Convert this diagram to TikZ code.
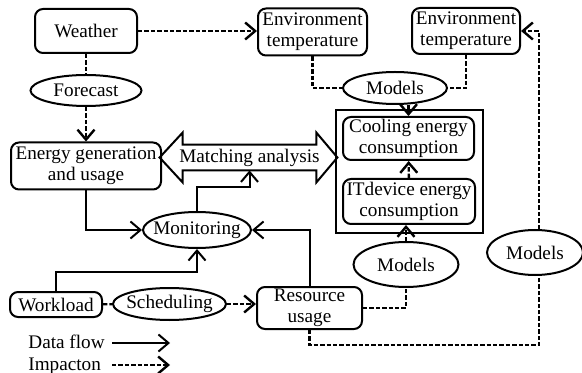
\documentclass[tikz,border=0pt]{standalone}
\usepackage{fontspec}
\setmainfont{Liberation Serif}
\usetikzlibrary{arrows.meta,shapes.geometric}
\tikzset{
  box/.style={draw, rounded corners=4pt, line width=1pt, inner sep=1pt, align=center},
  oval/.style={draw, ellipse, line width=1pt, inner sep=0pt, label=center:#1},
  flow/.style={line width=1pt, -{Straight Barb[length=5pt,width=8.5pt]}},
  impactline/.style={line width=1.2pt, dash pattern=on 2.2pt off 1pt},
  impact/.style={impactline, -{Straight Barb[length=5pt,width=8.5pt]}},
}
\begin{document}
\begin{tikzpicture}[x=0.5pt, y=-0.5pt, font=\fontsize{9.6}{10.5}\selectfont]
	\useasboundingbox (0,0) rectangle (582,373);
	% boxes
	\node[box, minimum width=51pt, minimum height=22pt] (weather) at (86,31) {Weather};
	\node[box, minimum width=54.5pt, minimum height=23.5pt] (envA) at (312.5,32) {Environment\\temperature};
	\node[box, minimum width=54pt, minimum height=23pt] (envB) at (466,31) {Environment\\temperature};
	\node[box, minimum width=75pt, minimum height=23.5pt] (energy) at (86,166) {Energy generation\\and usage};
	\node[draw, line width=1pt, minimum width=73.5pt, minimum height=61.5pt] (devbox) at (409.5,171.5) {};
	\node[box, minimum width=65.5pt, minimum height=21.5pt] (cool) at (408.5,138.5) {Cooling energy\\consumption};
	\node[box, minimum width=66pt, minimum height=22.5pt] (itdev) at (409,201.5) {ITdevice energy\\consumption};
	\node[box, minimum width=46pt, minimum height=12.5pt] (work) at (56,304.5) {Workload};
	\node[box, minimum width=52.5pt, minimum height=21pt] (res) at (309.5,308) {Resource\\usage};
	% ovals
	\node[oval=Forecast, minimum width=55.5pt, minimum height=15.5pt] (forecast) at (86,90.5) {};
	\node[oval=Models, minimum width=52pt, minimum height=16pt] (modA) at (395,88) {};
	\node[oval=Models, minimum width=52.5pt, minimum height=22.5pt] (modB) at (406,264.5) {};
	\node[oval=Models, minimum width=48pt, minimum height=22.5pt] (modC) at (535,252.5) {};
	\node[oval=Monitoring, minimum width=54pt, minimum height=18pt] (mon) at (197,230) {};
	\node[oval=Scheduling, minimum width=56.5pt, minimum height=16pt] (sched) at (169.5,304) {};
	% matching analysis
	\node[inner sep=0pt, minimum width=66.5pt, minimum height=12.5pt, label=center:Matching analysis] (match) at (249.5,157.5) {};
	\draw[line width=1pt] ([xshift=-11.5pt]match.west) -- ([yshift=6pt]match.north west) -- (match.north west)
		-- (match.north east) -- ([yshift=6pt]match.north east) -- ([xshift=10.5pt]match.east)
		-- ([yshift=-6pt]match.south east) -- (match.south east) -- (match.south west)
		-- ([yshift=-6pt]match.south west) -- cycle;
	% impact
	\draw[impact] (weather) -- (weather -| envA.west);
	\draw[impactline] (weather) -- (forecast);
	\draw[impact] (forecast) -- (energy);
	\draw[impactline] (envA.south) |- (modA.west);
	\draw[impactline] (envB.south) |- (modA.east);
	\draw[impact] (modA.south -| cool) -- (cool.north);
	\draw[impact] (itdev) -- (cool);
	\draw[impact] (modB) -- (modB |- itdev.south);
	\draw[impactline] (res.east) -| (modB.south);
	\coordinate (corner) at (539,345);
	\draw[impactline] (res.south) |- (corner) -- (corner |- modC.south);
	\draw[impact] (corner |- modC.north) |- (envB.east);
	\draw[impactline] (work) -- (sched);
	\draw[impact] (sched) -- (sched -| res.west);
	% data flow
	\draw[flow] (energy.south) |- (mon.west);
	\draw[flow] (mon.north) -- ++(0,12pt) -| (match.south);
	\draw[flow] (work.north) -- ++(0,9.5pt) -| (mon.south);
	\draw[flow] (res.north) |- (mon.east);
	% legend
	\foreach \yy/\txt/\sty [count=\i] in {343/Data flow/flow, 365/Impacton/impact} {
		\node[anchor=base west, inner sep=0pt] (leg\i) at (28,\yy+5) {\txt};
		\coordinate (legs\i) at (112,\yy);
		\coordinate (lege\i) at (170,\yy);
		\draw[\sty] (legs\i) -- (lege\i);
	}
\end{tikzpicture}
\end{document}
